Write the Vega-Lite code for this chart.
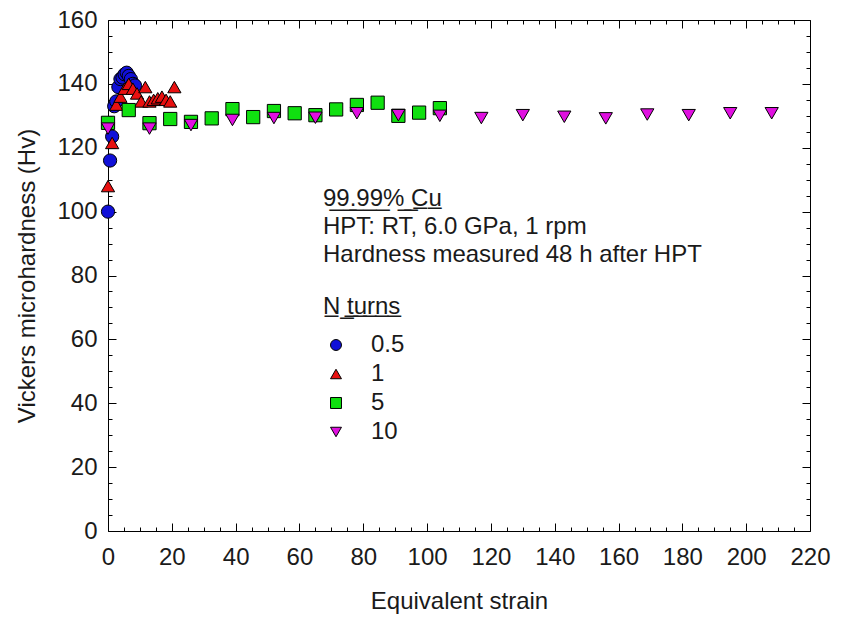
{
  "$schema": "https://vega.github.io/schema/vega-lite/v6.json",
  "width": 702,
  "height": 511,
  "autosize": {"type": "none"},
  "padding": {"left": 108, "top": 20, "right": 34, "bottom": 89},
  "background": "white",
  "title": {
    "text": ["9̲9̲.̲9̲9̲%̲ ̲C̲u̲", "HPT: RT, 6.0 GPa, 1 rpm", "Hardness measured 48 h after HPT"],
    "anchor": "start",
    "frame": "group",
    "orient": "top",
    "baseline": "top",
    "dx": 215,
    "dy": 259,
    "offset": 0,
    "font": "Liberation Sans",
    "fontSize": 24,
    "fontWeight": "normal",
    "color": "#1a1a1a",
    "lineHeight": 28
  },
  "config": {
    "font": "Liberation Sans",
    "view": {"stroke": "#000", "strokeWidth": 1},
    "axis": {
      "grid": false,
      "domain": false,
      "tickColor": "#000",
      "tickWidth": 1,
      "labelColor": "#1a1a1a",
      "labelFont": "Liberation Sans",
      "labelFontSize": 24,
      "labelFlush": false,
      "labelOverlap": false,
      "titleFont": "Liberation Sans",
      "titleFontSize": 24,
      "titleFontWeight": "normal",
      "titleColor": "#1a1a1a"
    },
    "legend": {
      "orient": "none",
      "legendX": 215,
      "legendY": 275,
      "padding": 0,
      "titleFont": "Liberation Sans",
      "titleFontSize": 24,
      "titleFontWeight": "normal",
      "titleColor": "#1a1a1a",
      "titlePadding": 14,
      "labelFont": "Liberation Sans",
      "labelFontSize": 24,
      "labelColor": "#1a1a1a",
      "labelOffset": 23,
      "symbolOffset": 1,
      "rowPadding": 5,
      "symbolSize": 120,
      "symbolStrokeColor": "#000",
      "symbolStrokeWidth": 1,
      "symbolOpacity": 1
    }
  },
  "datasets": {
    "hardness": [
      {"strain": 0, "hv": 100, "turns": "0.5"},
      {"strain": 0.65, "hv": 116, "turns": "0.5"},
      {"strain": 1.3, "hv": 123.5, "turns": "0.5"},
      {"strain": 1.95, "hv": 133, "turns": "0.5"},
      {"strain": 2.6, "hv": 134.5, "turns": "0.5"},
      {"strain": 3.25, "hv": 139, "turns": "0.5"},
      {"strain": 3.9, "hv": 141.5, "turns": "0.5"},
      {"strain": 4.55, "hv": 142, "turns": "0.5"},
      {"strain": 5.2, "hv": 143, "turns": "0.5"},
      {"strain": 5.85, "hv": 143.5, "turns": "0.5"},
      {"strain": 6.5, "hv": 142.5, "turns": "0.5"},
      {"strain": 7.15, "hv": 141.5, "turns": "0.5"},
      {"strain": 7.8, "hv": 140, "turns": "0.5"},
      {"strain": 8.45, "hv": 139.5, "turns": "0.5"},
      {"strain": 0, "hv": 108, "turns": "1"},
      {"strain": 1.3, "hv": 121.5, "turns": "1"},
      {"strain": 2.6, "hv": 133.5, "turns": "1"},
      {"strain": 3.9, "hv": 136, "turns": "1"},
      {"strain": 5.2, "hv": 138.5, "turns": "1"},
      {"strain": 6.5, "hv": 140, "turns": "1"},
      {"strain": 7.8, "hv": 138.5, "turns": "1"},
      {"strain": 9.1, "hv": 137, "turns": "1"},
      {"strain": 10.4, "hv": 134.5, "turns": "1"},
      {"strain": 11.7, "hv": 139, "turns": "1"},
      {"strain": 13, "hv": 134.5, "turns": "1"},
      {"strain": 14.3, "hv": 135, "turns": "1"},
      {"strain": 15.6, "hv": 135.5, "turns": "1"},
      {"strain": 16.9, "hv": 136, "turns": "1"},
      {"strain": 18.2, "hv": 135, "turns": "1"},
      {"strain": 19.5, "hv": 134.5, "turns": "1"},
      {"strain": 20.8, "hv": 139, "turns": "1"},
      {"strain": 0, "hv": 127.8, "turns": "5"},
      {"strain": 6.5, "hv": 131.8, "turns": "5"},
      {"strain": 13, "hv": 127.7, "turns": "5"},
      {"strain": 19.5, "hv": 129, "turns": "5"},
      {"strain": 26, "hv": 128.1, "turns": "5"},
      {"strain": 32.5, "hv": 129.2, "turns": "5"},
      {"strain": 39, "hv": 132.1, "turns": "5"},
      {"strain": 45.5, "hv": 129.6, "turns": "5"},
      {"strain": 52, "hv": 131.5, "turns": "5"},
      {"strain": 58.5, "hv": 130.8, "turns": "5"},
      {"strain": 65, "hv": 130.2, "turns": "5"},
      {"strain": 71.5, "hv": 132, "turns": "5"},
      {"strain": 78, "hv": 133.4, "turns": "5"},
      {"strain": 84.5, "hv": 134.1, "turns": "5"},
      {"strain": 91, "hv": 130, "turns": "5"},
      {"strain": 97.5, "hv": 131, "turns": "5"},
      {"strain": 104, "hv": 132.4, "turns": "5"},
      {"strain": 0, "hv": 126, "turns": "10"},
      {"strain": 13, "hv": 126, "turns": "10"},
      {"strain": 26, "hv": 127.1, "turns": "10"},
      {"strain": 39, "hv": 128.7, "turns": "10"},
      {"strain": 52, "hv": 129.3, "turns": "10"},
      {"strain": 65, "hv": 129.4, "turns": "10"},
      {"strain": 78, "hv": 130.8, "turns": "10"},
      {"strain": 91, "hv": 130.2, "turns": "10"},
      {"strain": 104, "hv": 130, "turns": "10"},
      {"strain": 117, "hv": 129.3, "turns": "10"},
      {"strain": 130, "hv": 130.2, "turns": "10"},
      {"strain": 143, "hv": 129.7, "turns": "10"},
      {"strain": 156, "hv": 129.2, "turns": "10"},
      {"strain": 169, "hv": 130.4, "turns": "10"},
      {"strain": 182, "hv": 130.2, "turns": "10"},
      {"strain": 195, "hv": 130.8, "turns": "10"},
      {"strain": 208, "hv": 130.8, "turns": "10"}
    ]
  },
  "data": {"name": "hardness"},
  "layer": [
    {
      "transform": [{"filter": "datum.turns === '0.5'"}],
      "mark": {"type": "point", "filled": true, "stroke": "#000", "strokeWidth": 1, "size": 175, "opacity": 1},
      "encoding": {
        "x": {"field": "strain", "type": "quantitative", "scale": {"domain": [0, 220], "nice": false, "zero": false},
          "axis": {"orient": "bottom", "values": [0, 20, 40, 60, 80, 100, 120, 140, 160, 180, 200, 220], "tickSize": -8, "labelPadding": 22, "title": "Equivalent strain", "titlePadding": 20}},
        "y": {"field": "hv", "type": "quantitative", "scale": {"domain": [0, 160], "nice": false, "zero": false},
          "axis": {"orient": "left", "values": [0, 20, 40, 60, 80, 100, 120, 140, 160], "tickSize": -8, "labelPadding": 19, "title": "Vickers microhardness (Hv)", "titlePadding": 17}},
        "color": {"field": "turns", "type": "nominal", "scale": {"domain": ["0.5", "1", "5", "10"], "range": ["#1010d8", "#e81010", "#10e010", "#e010e0"]},
          "legend": {"title": "N̲ ̲t̲u̲r̲n̲s̲",
            "encode": {"symbols": {"update": {"stroke": {"value": "#000"}, "strokeWidth": {"value": 1}}}}}},
        "shape": {"field": "turns", "type": "nominal", "scale": {"domain": ["0.5", "1", "5", "10"], "range": ["circle", "triangle-up", "square", "triangle-down"]},
          "legend": {"title": "N̲ ̲t̲u̲r̲n̲s̲",
            "encode": {"symbols": {"update": {"stroke": {"value": "#000"}, "strokeWidth": {"value": 1}}}}}}
      }
    },
    {
      "transform": [{"filter": "datum.turns === '1'"}],
      "mark": {"type": "point", "filled": true, "stroke": "#000", "strokeWidth": 1, "size": 175, "opacity": 1},
      "encoding": {
        "x": {"field": "strain", "type": "quantitative",
          "axis": {"orient": "bottom", "values": [5, 10, 15, 25, 30, 35, 45, 50, 55, 65, 70, 75, 85, 90, 95, 105, 110, 115, 125, 130, 135, 145, 150, 155, 165, 170, 175, 185, 190, 195, 205, 210, 215], "tickSize": -4, "labels": false, "title": null}},
        "y": {"field": "hv", "type": "quantitative",
          "axis": {"orient": "left", "values": [5, 10, 15, 25, 30, 35, 45, 50, 55, 65, 70, 75, 85, 90, 95, 105, 110, 115, 125, 130, 135, 145, 150, 155], "tickSize": -4, "labels": false, "title": null}},
        "color": {"field": "turns", "type": "nominal"},
        "shape": {"field": "turns", "type": "nominal"}
      }
    },
    {
      "transform": [{"filter": "datum.turns === '5'"}],
      "mark": {"type": "point", "filled": true, "stroke": "#000", "strokeWidth": 1, "size": 175, "opacity": 1},
      "encoding": {
        "x": {"field": "strain", "type": "quantitative",
          "axis": {"orient": "top", "values": [0, 20, 40, 60, 80, 100, 120, 140, 160, 180, 200, 220], "tickSize": -8, "labels": false, "title": null}},
        "y": {"field": "hv", "type": "quantitative",
          "axis": {"orient": "right", "values": [0, 20, 40, 60, 80, 100, 120, 140, 160], "tickSize": -8, "labels": false, "title": null}},
        "color": {"field": "turns", "type": "nominal"},
        "shape": {"field": "turns", "type": "nominal"}
      }
    },
    {
      "transform": [{"filter": "datum.turns === '10'"}],
      "mark": {"type": "point", "filled": true, "stroke": "#000", "strokeWidth": 1, "size": 175, "opacity": 1},
      "encoding": {
        "x": {"field": "strain", "type": "quantitative",
          "axis": {"orient": "top", "values": [5, 10, 15, 25, 30, 35, 45, 50, 55, 65, 70, 75, 85, 90, 95, 105, 110, 115, 125, 130, 135, 145, 150, 155, 165, 170, 175, 185, 190, 195, 205, 210, 215], "tickSize": -4, "labels": false, "title": null}},
        "y": {"field": "hv", "type": "quantitative",
          "axis": {"orient": "right", "values": [5, 10, 15, 25, 30, 35, 45, 50, 55, 65, 70, 75, 85, 90, 95, 105, 110, 115, 125, 130, 135, 145, 150, 155], "tickSize": -4, "labels": false, "title": null}},
        "color": {"field": "turns", "type": "nominal"},
        "shape": {"field": "turns", "type": "nominal"}
      }
    }
  ],
  "resolve": {"axis": {"x": "independent", "y": "independent"}}
}
